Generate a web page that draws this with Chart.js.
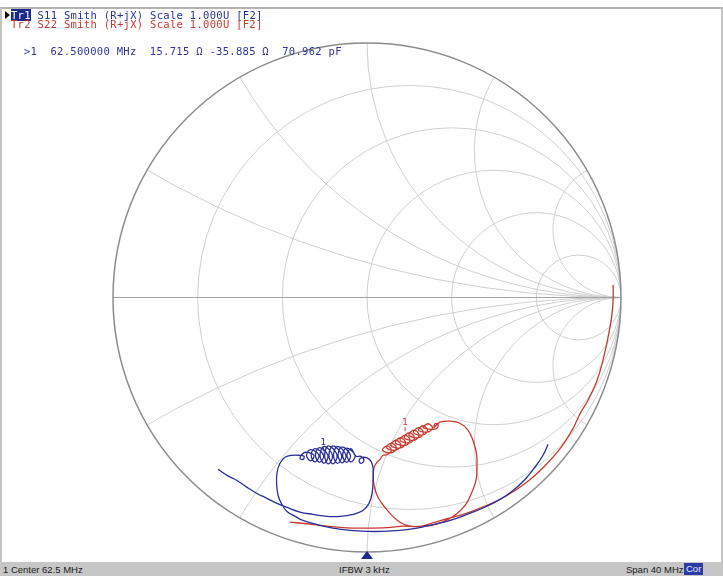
<!DOCTYPE html>
<html>
<head>
<meta charset="utf-8">
<script src="https://cdn.jsdelivr.net/npm/chart.js@4.4.1/dist/chart.umd.min.js"></script>
<style>
html,body{margin:0;padding:0;background:#fff;}
#wrap{position:relative;width:723px;height:576px;overflow:hidden;background:#fff;}
#wrap canvas{position:absolute;left:0;top:0;}
.frame{position:absolute;left:0;top:7px;width:719px;height:553px;border-top:2px solid #b4b4b4;border-left:2px solid #c4c4c4;border-right:2px solid #c4c4c4;}
.mono{position:absolute;font-family:"DejaVu Sans Mono",monospace;font-size:10.5px;letter-spacing:0.3px;white-space:pre;line-height:10px;z-index:2;}
.tr1{background:#1c2a8c;color:#fff;}
.arrow{position:absolute;left:5px;top:11px;width:0;height:0;border-top:4px solid transparent;border-bottom:4px solid transparent;border-left:5px solid #111;z-index:2;}
.status{position:absolute;left:0;top:562px;width:723px;height:14px;background:#c6c6c6;z-index:2;font-family:"Liberation Sans",Arial,sans-serif;font-size:9.5px;color:#1a1a1a;}
.status span{position:absolute;top:2px;white-space:pre;}
.cor{background:#2a3aa6;color:#e8e8ff;padding:0 2px;top:1px !important;height:12px;line-height:12px;}
</style>
</head>
<body>
<div id="wrap">
  <canvas id="c" width="723" height="576"></canvas>
  <div class="frame"></div>
  <div class="arrow"></div>
  <div class="mono" id="h1" style="left:11px;top:10px;color:#2a2f98;"></div>
  <div class="mono" id="h2" style="left:11px;top:19px;color:#c53a30;"></div>
  <div class="mono" id="ro" style="left:24px;top:46px;color:#30359c;"></div>
  <div class="status">
    <span id="st1" style="left:3px;"></span>
    <span id="st2" style="left:339px;"></span>
    <span id="st3" style="left:626px;"></span>
    <span id="st4" class="cor" style="left:684px;"></span>
  </div>
</div>
<script>
// ---- texts ----
const trace1Label = "Tr1";
const trace1Text = " S11 Smith (R+jX) Scale 1.000U [F2]";
const trace2Text = "Tr2 S22 Smith (R+jX) Scale 1.000U [F2]";
const readoutText = ">1  62.500000 MHz  15.715 \u03A9 -35.885 \u03A9  70.962 pF";
const statusTexts = ["1 Center 62.5 MHz", "IFBW 3 kHz", "Span 40 MHz", "Cor"];

// ---- Smith grid values (normalized resistance / reactance) ----
const gridR = [0.2, 0.5, 1, 2, 5];
const gridX = [0.268, 0.577, 1, 1.732, 3.732];

// ---- S11 trace (reflection coefficient, real / imaginary) ----
const s11Re = [
 -0.587,-0.551,-0.512,-0.472,-0.433,-0.394,-0.354,-0.315,
 -0.264,-0.213,-0.157,-0.106,-0.055,-0.016,0.008,
 0.020,0.024,0.024,0.016,0.000,
 -0.020,-0.031,-0.024,-0.012,-0.024,-0.043,
 -0.063,-0.079,-0.063,-0.047,
 -0.081,-0.096,-0.081,-0.065,
 -0.098,-0.114,-0.098,-0.083,
 -0.116,-0.132,-0.116,-0.100,
 -0.134,-0.150,-0.134,-0.118,
 -0.152,-0.167,-0.152,-0.136,
 -0.169,-0.185,-0.169,-0.154,
 -0.187,-0.203,-0.187,-0.171,
 -0.205,-0.220,-0.205,-0.189,
 -0.222,-0.238,-0.222,-0.209,
 -0.240,
 -0.256,-0.264,-0.252,-0.248,-0.268,
 -0.295,-0.323,-0.343,-0.354,-0.356,-0.350,-0.335,-0.315,-0.283,-0.252,
 -0.197,-0.134,-0.067,0.000,0.063,0.130,0.197,0.260,0.327,0.394,0.457,0.524,0.575,0.622,0.661,0.693,0.713
];
const s11Im = [
 -0.675,-0.699,-0.719,-0.746,-0.770,-0.789,-0.809,-0.825,
 -0.843,-0.852,-0.860,-0.860,-0.852,-0.837,-0.809,
 -0.770,-0.719,-0.671,-0.644,-0.630,
 -0.628,-0.640,-0.652,-0.640,-0.624,-0.624,
 -0.594,-0.620,-0.646,-0.620,
 -0.592,-0.620,-0.648,-0.620,
 -0.587,-0.620,-0.650,-0.620,
 -0.585,-0.620,-0.652,-0.620,
 -0.583,-0.620,-0.654,-0.620,
 -0.583,-0.620,-0.654,-0.620,
 -0.585,-0.620,-0.652,-0.620,
 -0.590,-0.620,-0.648,-0.620,
 -0.594,-0.620,-0.646,-0.620,
 -0.598,-0.620,-0.642,-0.620,
 -0.608,
 -0.616,-0.632,-0.636,-0.624,-0.620,
 -0.620,-0.628,-0.652,-0.687,-0.730,-0.778,-0.813,-0.841,-0.860,-0.876,
 -0.892,-0.906,-0.915,-0.919,-0.919,-0.915,-0.906,-0.892,-0.876,-0.852,-0.827,-0.793,-0.758,-0.715,-0.667,-0.620,-0.577
];

// ---- S22 trace ----
const s22Re = [
 -0.303,-0.236,-0.157,-0.079,0.000,0.079,0.146,
 0.197,0.248,0.299,0.346,0.386,0.411,0.429,0.433,0.431,0.417,0.398,0.366,0.327,0.287,
 0.264,0.268,0.280,0.272,
 0.222,0.240,0.258,0.240,
 0.203,0.220,0.238,0.220,
 0.183,0.203,0.222,0.203,
 0.165,0.185,0.205,0.185,
 0.147,0.167,0.187,0.167,
 0.130,0.150,0.170,0.150,
 0.112,0.132,0.152,0.132,
 0.094,0.114,0.134,0.114,
 0.077,0.096,0.116,0.096,
 0.061,0.079,0.096,0.079,
 0.063,0.051,0.039,0.028,0.024,0.028,0.043,0.071,0.098,0.130,0.169,0.217,0.264,
 0.315,0.394,0.472,0.551,0.630,0.693,0.760,0.811,0.839,0.870,0.906,0.929,0.949,0.963,0.969,0.969
];
const s22Im = [
 -0.883,-0.889,-0.898,-0.905,-0.906,-0.904,-0.898,
 -0.900,-0.896,-0.882,-0.856,-0.817,-0.770,-0.719,-0.667,-0.612,-0.561,-0.522,-0.494,-0.486,-0.490,
 -0.510,-0.496,-0.498,-0.516,
 -0.512,-0.496,-0.512,-0.528,
 -0.522,-0.504,-0.522,-0.540,
 -0.531,-0.511,-0.531,-0.551,
 -0.541,-0.521,-0.541,-0.561,
 -0.551,-0.531,-0.551,-0.571,
 -0.561,-0.541,-0.561,-0.581,
 -0.571,-0.551,-0.571,-0.591,
 -0.581,-0.561,-0.581,-0.600,
 -0.591,-0.572,-0.591,-0.610,
 -0.600,-0.583,-0.600,-0.618,
 -0.620,-0.636,-0.648,-0.667,-0.699,-0.738,-0.785,-0.825,-0.856,-0.883,-0.898,-0.898,-0.884,
 -0.869,-0.847,-0.817,-0.778,-0.725,-0.669,-0.594,-0.515,-0.456,-0.404,-0.325,-0.246,-0.156,-0.077,-0.010,0.049
];

// ---- markers (marker 1 of each trace) ----
const markerRe = [-0.172, 0.150];
const markerIm = [-0.640, -0.561];
const markerLabels = ["1", "1"];

const colS11 = "#2a2f98";
const colS22 = "#c8392e";

// put texts in place
const h1 = document.getElementById('h1');
const sp = document.createElement('span'); sp.className = 'tr1'; sp.textContent = trace1Label;
h1.appendChild(sp); h1.appendChild(document.createTextNode(trace1Text));
document.getElementById('h2').textContent = trace2Text;
document.getElementById('ro').textContent = readoutText;
['st1','st2','st3','st4'].forEach((id,i)=>document.getElementById(id).textContent = statusTexts[i]);

const toPts = (re, im) => re.map((r, i) => ({x: r, y: im[i]}));

const smithGrid = {
  id: 'smithGrid',
  beforeDatasetsDraw(chart) {
    const {ctx, scales: {x, y}} = chart;
    const px = v => x.getPixelForValue(v), py = v => y.getPixelForValue(v);
    const sx = px(1) - px(0), sy = py(0) - py(1);
    ctx.save();
    ctx.beginPath(); ctx.ellipse(px(0), py(0), sx, sy, 0, 0, 2*Math.PI); ctx.clip();
    ctx.strokeStyle = '#d0d0d0'; ctx.lineWidth = 1;
    gridR.forEach(r => {
      const c = r/(1+r), rad = 1/(1+r);
      ctx.beginPath(); ctx.ellipse(px(c), py(0), rad*sx, rad*sy, 0, 0, 2*Math.PI); ctx.stroke();
    });
    gridX.forEach(xv => {
      [1, -1].forEach(s => {
        const rad = 1/xv;
        ctx.beginPath(); ctx.ellipse(px(1), py(s*rad), rad*sx, rad*sy, 0, 0, 2*Math.PI); ctx.stroke();
      });
    });
    ctx.restore();
    ctx.save();
    ctx.strokeStyle = '#a4a4a4'; ctx.lineWidth = 1.2;
    ctx.beginPath(); ctx.moveTo(px(-1), py(0)); ctx.lineTo(px(1), py(0)); ctx.stroke();
    ctx.strokeStyle = '#8c8c8c'; ctx.lineWidth = 1.5;
    ctx.beginPath(); ctx.ellipse(px(0), py(0), sx, sy, 0, 0, 2*Math.PI); ctx.stroke();
    ctx.restore();
  },
  afterDatasetsDraw(chart) {
    const {ctx, scales: {x, y}} = chart;
    const cols = [colS11, colS22];
    ctx.save();
    markerRe.forEach((r, i) => {
      const X = x.getPixelForValue(r), Y = y.getPixelForValue(markerIm[i]);
      ctx.fillStyle = cols[i]; ctx.strokeStyle = cols[i]; ctx.lineWidth = 1;
      ctx.font = '9px "DejaVu Sans"'; ctx.textAlign = 'center'; ctx.textBaseline = 'bottom';
      ctx.fillText(markerLabels[i], X, Y - 13);
      ctx.beginPath(); ctx.moveTo(X, Y - 13); ctx.lineTo(X, Y - 9); ctx.stroke();
    });
    // stimulus centre marker at bottom
    const cx = x.getPixelForValue(0), by = y.getPixelForValue(-1);
    ctx.fillStyle = '#1e2a8a';
    ctx.beginPath(); ctx.moveTo(cx - 6, by + 7); ctx.lineTo(cx + 6, by + 7); ctx.lineTo(cx, by - 1); ctx.closePath(); ctx.fill();
    ctx.restore();
  }
};

new Chart(document.getElementById('c'), {
  type: 'scatter',
  data: {
    datasets: [
      {label: 'S11', data: toPts(s11Re, s11Im), showLine: true, borderColor: colS11, borderWidth: 1.3, pointRadius: 0, tension: 0.4, clip: false},
      {label: 'S22', data: toPts(s22Re, s22Im), showLine: true, borderColor: colS22, borderWidth: 1.3, pointRadius: 0, tension: 0.4, clip: false}
    ]
  },
  options: {
    responsive: false,
    animation: false,
    devicePixelRatio: 1,
    layout: {padding: {left: 113, right: 102, top: 43, bottom: 24}},
    scales: {
      x: {type: 'linear', min: -1, max: 1, display: false},
      y: {type: 'linear', min: -1, max: 1, display: false}
    },
    plugins: {legend: {display: false}, tooltip: {enabled: false}}
  },
  plugins: [smithGrid]
});
</script>
</body>
</html>
